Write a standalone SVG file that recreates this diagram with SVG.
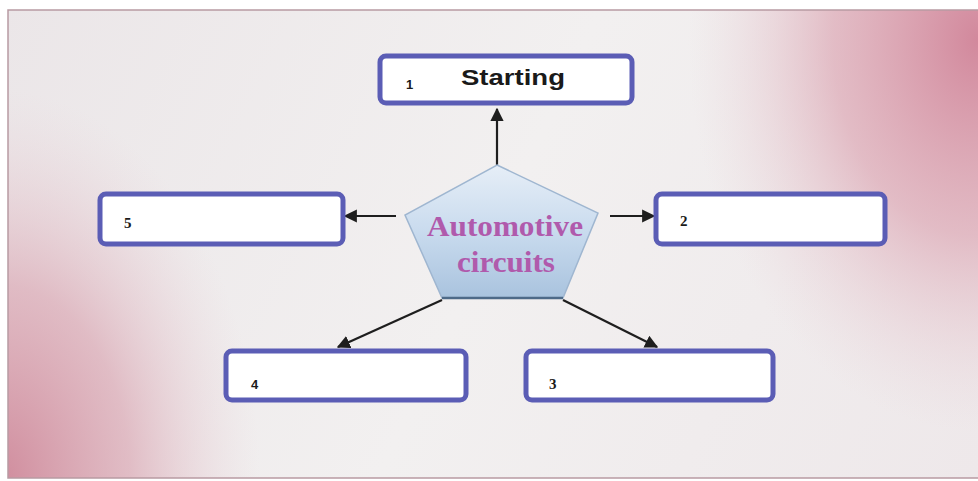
<svg xmlns="http://www.w3.org/2000/svg" width="978" height="481" viewBox="0 0 978 481">
<defs>
<linearGradient id="bg" gradientUnits="userSpaceOnUse" x1="0" y1="10" x2="978" y2="478">
<stop offset="0" stop-color="#ebe6e8"/>
<stop offset="0.5" stop-color="#f2f0f0"/>
<stop offset="1" stop-color="#eee8ea"/>
</linearGradient>
<radialGradient id="pinkBL" gradientUnits="userSpaceOnUse" cx="0" cy="480" r="260" gradientTransform="translate(0,480) scale(1,1.5) translate(0,-480)">
<stop offset="0" stop-color="#d08c9d" stop-opacity="1"/>
<stop offset="0.5" stop-color="#d9a3b0" stop-opacity="0.65"/>
<stop offset="1" stop-color="#e8d0d6" stop-opacity="0"/>
</radialGradient>
<radialGradient id="pinkTR" gradientUnits="userSpaceOnUse" cx="978" cy="40" r="290" gradientTransform="translate(978,40) scale(1,1.35) translate(-978,-40)">
<stop offset="0" stop-color="#d2889c" stop-opacity="1"/>
<stop offset="0.5" stop-color="#dba2b0" stop-opacity="0.65"/>
<stop offset="1" stop-color="#e8d0d6" stop-opacity="0"/>
</radialGradient>
<linearGradient id="pent" x1="0" y1="0" x2="0" y2="1">
<stop offset="0" stop-color="#e6eef7"/>
<stop offset="0.5" stop-color="#c9dbee"/>
<stop offset="1" stop-color="#a9c3de"/>
</linearGradient>
<marker id="ah" viewBox="0 0 10 10" refX="9" refY="5" markerWidth="6" markerHeight="6" orient="auto" markerUnits="strokeWidth">
<path d="M0,0 L10,5 L0,10 z" fill="#1e1e1e"/>
</marker>
<style>
.box{fill:#ffffff;stroke:#5b5db5;stroke-width:5}
.num{font-family:"Liberation Serif",serif;font-weight:bold;font-size:15px;fill:#1a1a1a}
.nums{font-family:"Liberation Sans",sans-serif;font-weight:bold;font-size:13px;fill:#1a1a1a}
.conn{stroke:#1e1e1e;stroke-width:2.2;fill:none;marker-end:url(#ah)}
.center{font-family:"Liberation Serif",serif;font-weight:bold;font-size:30px;fill:#b05aac}
</style>
</defs>
<rect x="0" y="0" width="978" height="481" fill="#ffffff"/>
<rect x="8" y="10" width="972" height="468" fill="url(#bg)"/>
<rect x="8" y="10" width="972" height="468" fill="url(#pinkBL)"/>
<rect x="8" y="10" width="972" height="468" fill="url(#pinkTR)"/>
<rect x="8" y="10" width="972" height="468" fill="none" stroke="#b89aa2" stroke-width="1.5"/>
<g id="connectors">
<line class="conn" x1="497" y1="165" x2="497" y2="109"/>
<line class="conn" x1="396" y1="216" x2="345" y2="216"/>
<line class="conn" x1="610" y1="216" x2="654" y2="216"/>
<line class="conn" x1="442" y1="300" x2="338" y2="347"/>
<line class="conn" x1="563" y1="300" x2="657" y2="347"/>
</g>
<g id="center">
<polygon points="497,165 598,213 563,298 442,298 405,215" fill="url(#pent)" stroke="#9fb6d0" stroke-width="1.5"/>
<line x1="442" y1="298" x2="563" y2="298" stroke="#4d6a88" stroke-width="2.5"/>
<text class="center" x="505" y="236" text-anchor="middle" textLength="156" lengthAdjust="spacingAndGlyphs">Automotive</text>
<text class="center" x="506" y="272" text-anchor="middle" textLength="98" lengthAdjust="spacingAndGlyphs">circuits</text>
</g>
<g id="node1">
<rect class="box" x="380" y="56" width="252" height="47" rx="6"/>
<text class="nums" x="406" y="89">1</text>
<text x="513" y="85" text-anchor="middle" font-family="'Liberation Sans',sans-serif" font-weight="bold" font-size="22" fill="#1a1a1a" textLength="104" lengthAdjust="spacingAndGlyphs">Starting</text>
</g>
<g id="node2">
<rect class="box" x="656" y="194" width="229" height="50" rx="6"/>
<text class="num" x="680" y="226">2</text>
</g>
<g id="node3">
<rect class="box" x="526" y="351" width="247" height="49" rx="6"/>
<text class="num" x="549" y="389">3</text>
</g>
<g id="node4">
<rect class="box" x="226" y="351" width="240" height="49" rx="6"/>
<text class="nums" x="251" y="389">4</text>
</g>
<g id="node5">
<rect class="box" x="100" y="194" width="243" height="50" rx="6"/>
<text class="num" x="124" y="228">5</text>
</g>
</svg>
